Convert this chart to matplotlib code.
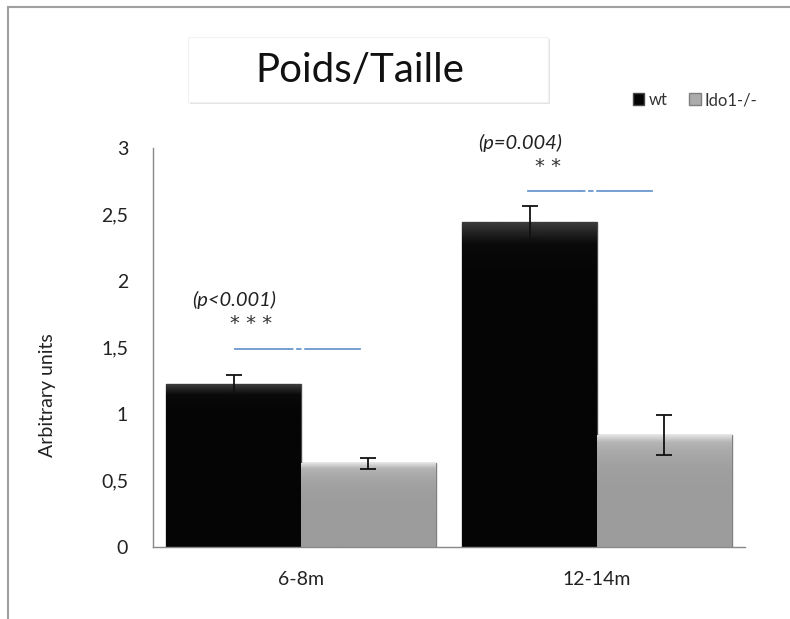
import matplotlib.pyplot as plt
import numpy as np
from matplotlib.patches import Rectangle
from matplotlib.lines import Line2D
from matplotlib.colors import LinearSegmentedColormap

plt.rcParams['font.family'] = ['Lato', 'DejaVu Sans']

# données
groups = ['6-8m', '12-14m']
wt = [1.225, 2.44]
wt_err = [0.065, 0.125]
ido1 = [0.63, 0.84]
ido1_err = [0.04, 0.15]
pvals = ['(p<0.001)', '(p=0.004)']
stars = ['* * *', '* *']
yticks = [0, 0.5, 1, 1.5, 2, 2.5, 3]
ytick_labels = ['0', '0,5', '1', '1,5', '2', '2,5', '3']

W, H = 790, 619
fig = plt.figure(figsize=(W / 100, H / 100), dpi=100)
ax = fig.add_axes([153 / W, (H - 547) / H, (745 - 153) / W, (547 - 148) / H])

x = np.arange(len(groups))
bw = 0.455
b1 = ax.bar(x - bw / 2, wt, bw, color='#050505', edgecolor='#4a4a4a', linewidth=1, label='wt', zorder=2)
b2 = ax.bar(x + bw / 2, ido1, bw, color='#ababab', edgecolor='#7f7f7f', linewidth=1, label='Ido1-/-', zorder=2)

# léger effet de biseau (dégradé en haut de chaque barre)
cm_dark = LinearSegmentedColormap.from_list('d', ['#050505', '#050505', '#0a0a0a', '#3c3c3c'])
cm_light = LinearSegmentedColormap.from_list('l', ['#9c9c9c', '#a8a8a8', '#b4b4b4', '#e2e2e2'])
grad = np.linspace(0, 1, 256).reshape(-1, 1) ** 6
for bars, cm in [(b1, cm_dark), (b2, cm_light)]:
    for p in bars:
        x0, y0 = p.get_x(), p.get_y()
        im = ax.imshow(grad, cmap=cm, origin='lower', aspect='auto', zorder=2.1,
                       extent=[x0, x0 + p.get_width(), y0, y0 + p.get_height()])
        im.set_clip_path(p)

ax.errorbar(x - bw / 2, wt, yerr=wt_err, fmt='none', ecolor='#111111', elinewidth=1.3, capsize=6, capthick=1.3, zorder=3)
ax.errorbar(x + bw / 2, ido1, yerr=ido1_err, fmt='none', ecolor='#111111', elinewidth=1.3, capsize=6, capthick=1.3, zorder=3)

ax.set_xlim(-0.5, 1.5)
ax.set_ylim(0, 3)
ax.set_yticks(yticks)
ax.set_yticklabels(ytick_labels)
ax.set_xticks(x)
ax.set_xticklabels(groups)
ax.tick_params(length=0, labelsize=14, colors='#222222')
ax.tick_params(axis='y', pad=18)
ax.tick_params(axis='x', pad=17)
for s in ['top', 'right']:
    ax.spines[s].set_visible(False)
for s in ['left', 'bottom']:
    ax.spines[s].set_color('#888888')
    ax.spines[s].set_linewidth(1)
ax.set_ylabel('Arbitrary units', fontsize=14, color='#222222')
ax.yaxis.set_label_coords(-0.164, 0.38)

# annotations de significativité
pv_pos = [(-0.226, 1.857), (0.74, 3.04)]
st_pos = [(-0.17, 1.68), (0.834, 2.86)]
line_x = [(-0.223, 0.2), (0.767, 1.186)]
line_y = [1.49, 2.68]
for i in range(2):
    ax.text(*pv_pos[i], pvals[i], ha='center', va='center', fontsize=14.5, style='italic', color='#222222', clip_on=False)
    ax.text(*st_pos[i], stars[i], ha='center', va='center', fontsize=14, color='#333333',
            family='DejaVu Sans', clip_on=False)
    x0, x1 = line_x[i]
    xm0 = x0 + (x1 - x0) * 0.42
    xm1 = x0 + (x1 - x0) * 0.6
    ax.plot([x0, xm0], [line_y[i]] * 2, color='#6b98cf', lw=1.3, clip_on=False)
    ax.plot([xm0, xm1], [line_y[i]] * 2, color='#6b98cf', lw=1.3, ls=(0, (3, 1.5)), clip_on=False)
    ax.plot([xm1, x1], [line_y[i]] * 2, color='#6b98cf', lw=1.3, clip_on=False)

ax.legend(loc='center', bbox_to_anchor=(695 / W, (H - 100) / H), bbox_transform=fig.transFigure,
          ncol=2, frameon=False, fontsize=12, handlelength=0.7, handleheight=0.7,
          handletextpad=0.25, columnspacing=1.3, labelcolor='#333333')

# cadre du graphique (coupé à droite et en bas)
fig.add_artist(Line2D([8 / W, 8 / W], [0, (H - 7) / H], color='#a0a0a0', lw=1.5))
fig.add_artist(Line2D([8 / W, 1], [(H - 7) / H, (H - 7) / H], color='#a0a0a0', lw=1.5))

# boîte de titre avec ombre
shadow = Rectangle((190 / W, (H - 104) / H), 360 / W, 65 / H, transform=fig.transFigure,
                   facecolor='#e4e4e4', edgecolor='none', zorder=1)
box = Rectangle((188 / W, (H - 102) / H), 360 / W, 65 / H, transform=fig.transFigure,
                facecolor='white', edgecolor='#f2f2f2', lw=0.8, zorder=2)
fig.add_artist(shadow)
fig.add_artist(box)
fig.text(360 / W, (H - 70) / H, 'Poids/Taille', ha='center', va='center', fontsize=29, color='#111111', zorder=3)

fig.savefig('out.png', dpi=100)
